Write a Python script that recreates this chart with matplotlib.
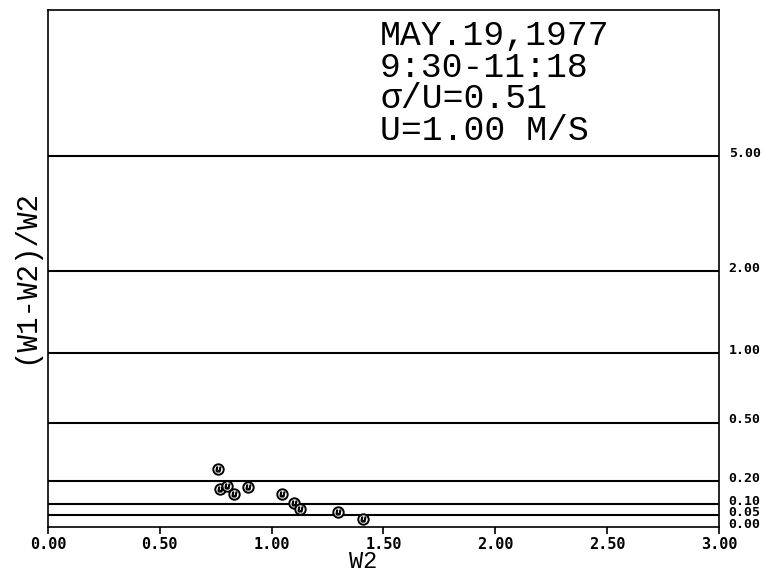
import matplotlib
matplotlib.use("Agg")
import matplotlib.pyplot as plt
from matplotlib.ticker import NullLocator
from matplotlib.transforms import offset_copy

# W2 and (W1-W2)/W2
w2 = [0.761, 0.769, 0.802, 0.833, 0.893, 1.045, 1.100, 1.127, 1.295, 1.407]
ratio = [0.258, 0.164, 0.181, 0.142, 0.173, 0.142, 0.102, 0.078, 0.063, 0.034]

# reference levels drawn as horizontal lines
levels = [0.05, 0.10, 0.20, 0.50, 1.00, 2.00, 5.00]
level_labels = ["0.00", "0.05", "0.10", "0.20", "0.50", "1.00", "2.00", "5.00"]
xticks = [0.0, 0.5, 1.0, 1.5, 2.0, 2.5, 3.0]
xtick_labels = ["0.00", "0.50", "1.00", "1.50", "2.00", "2.50", "3.00"]

info = ["MAY.19,1977", "9:30-11:18", "σ/U=0.51", "U=1.00 M/S"]

mono = "DejaVu Sans Mono"
thin = "Liberation Mono"

fig = plt.figure(figsize=(7.65, 5.71), dpi=100)
ax = fig.add_axes([0.0627, 0.0771, 0.8772, 0.9054])

ax.set_yscale("asinh", linear_width=0.55)
ax.set_xlim(0, 3)
ax.set_ylim(0, 15.7)

for lv in levels:
    ax.axhline(lv, color="black", lw=1.5)

ax.plot(w2, ratio, ls="none", marker="o", ms=7.5, mfc="white", mec="black", mew=1.4, zorder=3)
ax.plot(w2, ratio, ls="none", marker="$u$", ms=3.5, color="black", zorder=4)

for s in ax.spines.values():
    s.set_linewidth(1.2)

# x axis
ax.set_xticks(xticks)
ax.set_xticklabels(xtick_labels, fontfamily=mono, fontweight="bold", fontsize=11)
ax.tick_params(axis="x", direction="out", length=5, width=1.2, pad=2)

# y axis: labels on the right, slightly above each line
ax.set_yticks([])
ax.yaxis.set_minor_locator(NullLocator())
trans = offset_copy(ax.get_yaxis_transform(), fig=fig, x=7, y=2, units="points")
for val, lab in zip([0.0] + levels, level_labels):
    ax.text(1.0, val, lab, transform=trans, ha="left", va="center",
            fontfamily=mono, fontweight="bold", fontsize=9.5)

fig.text(363 / 765, 1 - 561 / 571, "W2", ha="center", va="center", fontfamily=thin, fontsize=17)
fig.text(25 / 765, 1 - 277 / 571, "(W1-W2)/W2", ha="center", va="center", rotation=90,
         fontfamily=thin, fontsize=21)

fig.text(380 / 765, 1 - 19 / 571, "\n".join(info), ha="left", va="top",
         fontfamily=thin, fontsize=25, linespacing=0.95)

fig.savefig("out.png", dpi=100)
